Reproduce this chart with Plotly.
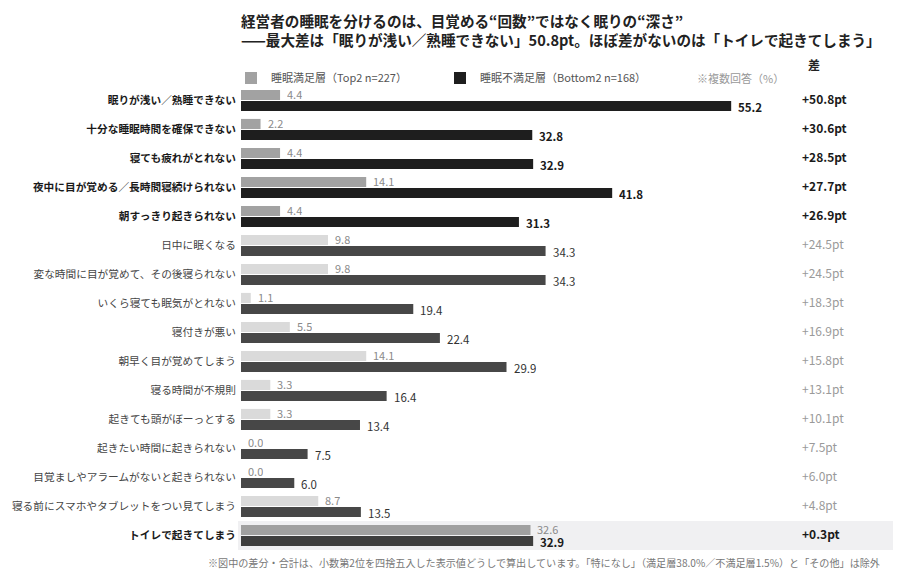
import plotly.graph_objects as go

# 睡眠の悩み（複数回答, %）
categories = [
    "眠りが浅い／熟睡できない",
    "十分な睡眠時間を確保できない",
    "寝ても疲れがとれない",
    "夜中に目が覚める／長時間寝続けられない",
    "朝すっきり起きられない",
    "日中に眠くなる",
    "変な時間に目が覚めて、その後寝られない",
    "いくら寝ても眠気がとれない",
    "寝付きが悪い",
    "朝早く目が覚めてしまう",
    "寝る時間が不規則",
    "起きても頭がぼーっとする",
    "起きたい時間に起きられない",
    "目覚ましやアラームがないと起きられない",
    "寝る前にスマホやタブレットをつい見てしまう",
    "トイレで起きてしまう",
]
satisfied = [4.4, 2.2, 4.4, 14.1, 4.4, 9.8, 9.8, 1.1, 5.5, 14.1, 3.3, 3.3, 0.0, 0.0, 8.7, 32.6]
dissatisfied = [55.2, 32.8, 32.9, 41.8, 31.3, 34.3, 34.3, 19.4, 22.4, 29.9, 16.4, 13.4, 7.5, 6.0, 13.5, 32.9]
emphasis = [True, True, True, True, True, False, False, False, False, False,
            False, False, False, False, False, True]

title_lines = [
    "経営者の睡眠を分けるのは、目覚める“回数”ではなく眠りの“深さ”",
    "——最大差は「眠りが浅い／熟睡できない」50.8pt。ほぼ差がないのは「トイレで起きてしまう」",
]
footnote = ("※図中の差分・合計は、小数第2位を四捨五入した表示値どうしで算出しています。"
            "「特になし」（満足層38.0%／不満足層1.5%）と「その他」は除外")

FONT = "Noto Sans CJK JP"
PX_PER_UNIT = 8.88
# page body has an 8px margin, so the figure is 8px smaller than the window
W, H = 894, 574
ML, MR, MT, MB = 233, 7, 78, 32
PLOT_W = W - ML - MR
PLOT_H = H - MT - MB


def px_x(page_x):
    # page pixel -> paper x
    return (page_x - 241) / PLOT_W


def px_y(page_y):
    # page pixel -> paper y
    return 1 + (86 - page_y) / PLOT_H


sat_colors = ["#a2a2a2" if e else "#dadada" for e in emphasis]
dis_colors = ["#1e1e1e" if e else "#474747" for e in emphasis]
sat_colors[-1] = "#a0a0a0"
dis_colors[-1] = "#3e3e3e"

fig = go.Figure()
fig.add_trace(go.Bar(
    y=categories, x=satisfied, orientation="h",
    name="睡眠満足層（Top2 n=227）",
    marker=dict(color=sat_colors, line=dict(width=0)),
    hoverinfo="skip",
))
fig.add_trace(go.Bar(
    y=categories, x=dissatisfied, orientation="h",
    name="睡眠不満足層（Bottom2 n=168）",
    marker=dict(color=dis_colors, line=dict(width=0)),
    hoverinfo="skip",
))

annotations = []
for cat, s, d, e in zip(categories, satisfied, dissatisfied, emphasis):
    annotations.append(dict(
        x=s, y=cat, xref="x", yref="y", text=f"{s:.1f}", showarrow=False,
        xanchor="left", yanchor="middle", xshift=6, yshift=6.5, borderpad=0, height=12,
        font=dict(family=FONT, size=11, color="#8a8a8a"),
    ))
    annotations.append(dict(
        x=d, y=cat, xref="x", yref="y",
        text=f"<b>{d:.1f}</b>" if e else f"{d:.1f}", showarrow=False,
        xanchor="left", yanchor="middle", xshift=6, yshift=-6.5, borderpad=0, height=12,
        font=dict(family=FONT, size=11.5, color="#1a1a1a" if e else "#333333"),
    ))
    diff = round(d - s, 1)
    annotations.append(dict(
        x=px_x(800), y=cat, xref="paper", yref="y",
        text=f"<b>+{diff:.1f}pt</b>" if e else f"+{diff:.1f}pt", showarrow=False,
        xanchor="left", yanchor="middle", yshift=2,
        font=dict(family=FONT, size=12, color="#1a1a1a" if e else "#9a9a9a"),
    ))

annotations += [
    dict(x=px_x(240), y=px_y(8.5), xref="paper", yref="paper",
         text="<b>" + "<br>".join(title_lines) + "</b>", showarrow=False,
         xanchor="left", yanchor="top", align="left", borderpad=0,
         font=dict(family=FONT, size=14.6, color="#222222")),
    dict(x=px_x(806), y=px_y(65), xref="paper", yref="paper",
         text="<b>差</b>", showarrow=False, xanchor="left", yanchor="middle",
         font=dict(family=FONT, size=12, color="#222222")),
    dict(x=px_x(695), y=px_y(78), xref="paper", yref="paper",
         text="※複数回答（%）", showarrow=False, xanchor="left", yanchor="middle",
         font=dict(family=FONT, size=11, color="#999999")),
    dict(x=px_x(882), y=px_y(562), xref="paper", yref="paper",
         text=footnote, showarrow=False, xanchor="right", yanchor="middle",
         font=dict(family=FONT, size=10.1, color="#777777")),
]

ticktext = [
    f"<b>{c}</b>" if e else f"<span style='color:#444444'>{c}</span>"
    for c, e in zip(categories, emphasis)
]

fig.update_layout(
    width=W, height=H,
    margin=dict(l=ML, r=MR, t=MT, b=MB, autoexpand=False),
    paper_bgcolor="white", plot_bgcolor="white",
    barmode="group", bargap=0.24, bargroupgap=0.08,
    font=dict(family=FONT, color="#222222"),
    xaxis=dict(range=[0, PLOT_W / PX_PER_UNIT], visible=False, fixedrange=True),
    yaxis=dict(
        autorange="reversed", tickvals=categories, ticktext=ticktext,
        showgrid=False, zeroline=False, showline=False, ticks="",
        ticklabelstandoff=4, automargin=False,
        tickfont=dict(family=FONT, size=10.7, color="#1a1a1a"), fixedrange=True,
    ),
    legend=dict(
        orientation="h", x=-10 / PLOT_W, xanchor="left", y=px_y(78),
        yanchor="middle", entrywidth=164, entrywidthmode="pixels", traceorder="normal",
        font=dict(family=FONT, size=11, color="#555555"), bgcolor="rgba(0,0,0,0)",
    ),
    shapes=[dict(
        type="rect", xref="paper", yref="y", x0=px_x(238), x1=px_x(893),
        y0=14.5, y1=15.5, fillcolor="#f0f0f2", line=dict(width=0), layer="below",
    )],
    annotations=annotations,
)

fig.write_html("out.html")
